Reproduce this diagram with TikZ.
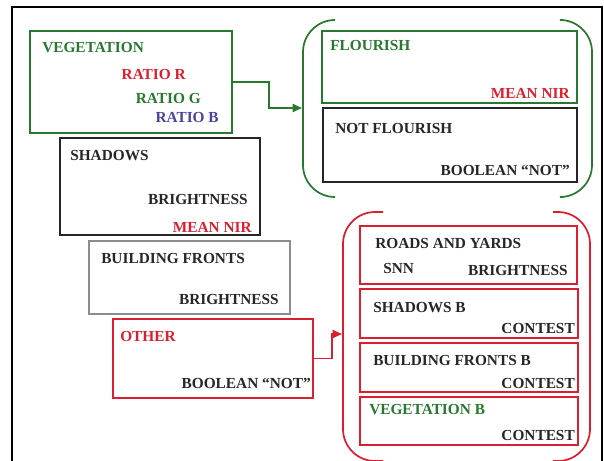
\documentclass[tikz,border=0pt]{standalone}
\usepackage{fontspec}
\setmainfont{Liberation Serif}
\usepackage{tikz}
\usetikzlibrary{arrows.meta}

\definecolor{vgreen}{RGB}{40,120,48}
\definecolor{vred}{RGB}{218,32,48}
\definecolor{vblue}{RGB}{72,68,158}
\definecolor{bgray}{RGB}{140,140,140}
\definecolor{bdark}{RGB}{38,38,38}

\begin{document}
\begin{tikzpicture}[x=0.75pt,y=0.75pt,yscale=-1,xscale=1,
  font=\fontsize{11.5}{13}\selectfont\bfseries,
  box/.style 2 args={draw, rectangle, line width=1.1pt, inner sep=0pt, minimum width=#1*0.75pt, minimum height=#2*0.75pt},
  lbl/.style={inner sep=0pt, anchor=west},
  rlbl/.style={inner sep=0pt, anchor=east},
  conn/.style={line width=1.3pt, -{Triangle[length=7pt,width=6pt]}},
  paren/.style={line width=1.3pt, rounded corners=24pt}
]
\useasboundingbox (0,0) rectangle (604,461);

%Frame
\draw [line width=1.6pt, color=black] (12,461) -- (12,7) -- (602,7) -- (602,461) ;

%Left column boxes
\node [box={202}{102}, color=vgreen] (veg) at (131,82) {};
\node [box={200}{97}, color=bdark] (shad) at (160,186.5) {};
\node [box={201}{73}, color=bgray] (bfront) at (189.5,277.5) {};
\node [box={200}{79}, color=vred] (other) at (213,358.5) {};

%Green group
\node [box={255}{72}, color=vgreen] (flour) at (449.5,67) {};
\node [box={254}{74}, color=bdark] (notfl) at (450,145) {};
\draw [paren, color=vgreen] (333,20) -- (303,20) -- (303,197) -- (333,197) ;
\draw [paren, color=vgreen] (563,20) -- (592,20) -- (592,197) -- (563,197) ;

%Red group
\node [box={217}{58}, color=vred] (roads) at (468.5,255) {};
\node [box={218}{49}, color=vred] (shadb) at (469,313.5) {};
\node [box={218}{49}, color=vred] (bfrontb) at (469,367.5) {};
\node [box={218}{48}, color=vred] (vegb) at (469,421) {};
\draw [paren, color=vred] (383,212) -- (343,212) -- (343,461) -- (383,461) ;
\draw [paren, color=vred] (553,212) -- (590,212) -- (590,461) -- (553,461) ;

%Connectors
\coordinate (gin) at (302,108);
\coordinate (rin) at (342,334);
\draw [conn, color=vgreen] (veg.east) -- ++(36,0) |- (gin) ;
\draw [conn, color=vred] (other.east) -- ++(18,0) |- (rin) ;

% Text Node
\node [lbl, color=vgreen] (t1) at (42,48) {VEGETATION};
\node [rlbl, color=vred] (t2) at (186,74) {RATIO R};
\node [rlbl, color=vgreen] (t3) at (201,98) {RATIO G};
\node [rlbl, color=vblue] (t4) at (219,117) {RATIO B};
% Text Node
\node [lbl, color=bdark] (t5) at (70,156) {SHADOWS};
\node [rlbl, color=bdark] (t6) at (248,199) {BRIGHTNESS};
\node [rlbl, color=vred] (t7) at (252,227) {MEAN NIR};
% Text Node
\node [lbl, color=bdark] (t8) at (101,258) {BUILDING FRONTS};
\node [rlbl, color=bdark] (t9) at (279,299) {BRIGHTNESS};
% Text Node
\node [lbl, color=vred] (t10) at (120,336) {OTHER};
\node [rlbl, color=bdark] (t11) at (311,383) {BOOLEAN “NOT”};
% Text Node
\node [lbl, color=vgreen] (t12) at (330,45) {FLOURISH};
\node [rlbl, color=vred] (t13) at (570,93) {MEAN NIR};
\node [lbl, color=bdark] (t14) at (335,128) {NOT FLOURISH};
\node [rlbl, color=bdark] (t15) at (570,170) {BOOLEAN “NOT”};
% Text Node
\node [lbl, color=bdark] (t16) at (375,243) {ROADS AND YARDS};
\node [lbl, color=bdark] (t17) at (383,268) {SNN};
\node [rlbl, color=bdark] (t18) at (568,270) {BRIGHTNESS};
\node [lbl, color=bdark] (t19) at (373,308) {SHADOWS B};
\node [rlbl, color=bdark] (t20) at (575,328) {CONTEST};
\node [lbl, color=bdark] (t21) at (373,360) {BUILDING FRONTS B};
\node [rlbl, color=bdark] (t22) at (575,383) {CONTEST};
\node [lbl, color=vgreen] (t23) at (369,410) {VEGETATION B};
\node [rlbl, color=bdark] (t24) at (575,435) {CONTEST};

\end{tikzpicture}
\end{document}
